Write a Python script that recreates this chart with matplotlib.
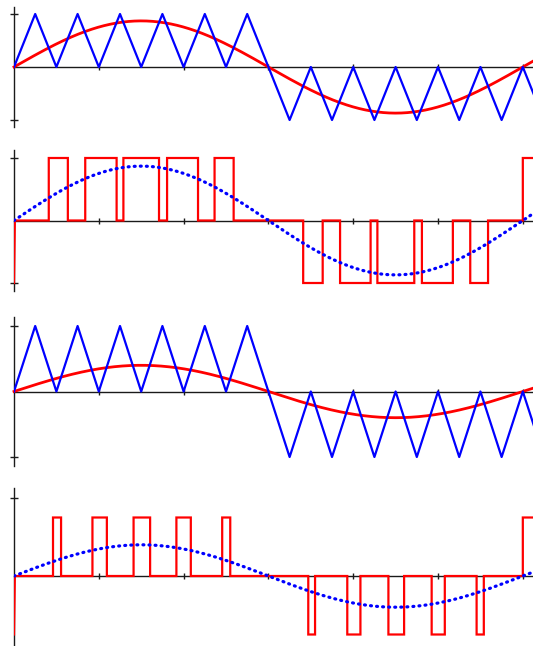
import numpy as np
import matplotlib
matplotlib.use("Agg")
import matplotlib.pyplot as plt

# time axis in carrier periods: one full sine period = 12 carrier periods
t_end = 12.24
tick_t = [2, 4, 6, 8, 10, 12]

# modulation index of each pair of panels
m_high = 0.87
m_low = 0.40

# triangle carrier vertex values, every half carrier period
carrier_vals = [0, 1, 0, 1, 0, 1, 0, 1, 0, 1, 0, 1, 0,
                -1, 0, -1, 0, -1, 0, -1, 0, -1, 0, -1, 0, -1]

# PWM pulse edges (start, stop)
pulses_high_pos = [(0.82, 1.27), (1.68, 2.42), (2.58, 3.42), (3.61, 4.34), (4.73, 5.18)]
pulses_high_neg = [(6.82, 7.28), (7.69, 8.41), (8.57, 9.44), (9.62, 10.35), (10.76, 11.18)]
pulses_low_pos = [(0.92, 1.11), (1.85, 2.19), (2.82, 3.21), (3.83, 4.17), (4.91, 5.10)]
pulses_low_neg = [(6.94, 7.10), (7.86, 8.17), (8.83, 9.20), (9.85, 10.16), (10.91, 11.08)]
level_high = 1.0
level_low = 0.75
restart_t = 12.0

# panel placement: zero line pixel, pixels per unit
panels = [(67, 53), (220.5, 62.5), (391.5, 65.5), (576, 78)]

W, H = 533, 646
RED = "#ff0000"
BLUE = "#0000ff"


def pwm_steps(pos, neg, level):
    ts = [0.0, 0.02]
    vs = [-level, 0.0]
    for a, b in pos:
        ts += [a, a, b, b]
        vs += [0, level, level, 0]
    for a, b in neg:
        ts += [a, a, b, b]
        vs += [0, -level, -level, 0]
    ts += [restart_t, restart_t, t_end + 0.1]
    vs += [0, level, level]
    return ts, vs


def make_axes(zero_px, scale):
    lo, hi = -1.13, 1.13
    top_px = zero_px - hi * scale
    bot_px = zero_px - lo * scale
    ax = fig.add_axes([14 / W, 1 - bot_px / H, (W - 14) / W, (bot_px - top_px) / H])
    ax.set_xlim(0, t_end)
    ax.set_ylim(lo, hi)
    for s in ["top", "right"]:
        ax.spines[s].set_visible(False)
    for s in ["left", "bottom"]:
        ax.spines[s].set_position("zero")
        ax.spines[s].set_color("#1a1a1a")
        ax.spines[s].set_linewidth(1.0)
        ax.spines[s].set_zorder(1)
    ax.set_xticks(tick_t)
    ax.set_yticks([-1, 1])
    ax.set_xticklabels([])
    ax.set_yticklabels([])
    ax.tick_params(axis="x", direction="inout", length=5, width=1.0, color="#1a1a1a")
    ax.tick_params(axis="y", direction="inout", length=6, width=1.0, color="#1a1a1a")
    ax.patch.set_visible(False)
    return ax


fig = plt.figure(figsize=(W / 100, H / 100), dpi=100)

tc = np.arange(len(carrier_vals)) * 0.5
ts = np.linspace(0, t_end, 600)

for i, m in enumerate([m_high, m_low]):
    # modulation panel
    ax = make_axes(*panels[2 * i])
    ax.plot(ts, m * np.sin(np.pi * ts / 6), color=RED, lw=2.0, zorder=3, clip_on=False)
    ax.plot(tc, carrier_vals, color=BLUE, lw=1.6, zorder=4, clip_on=True)

    # output panel
    ax = make_axes(*panels[2 * i + 1])
    if i == 0:
        px, py = pwm_steps(pulses_high_pos, pulses_high_neg, level_high)
    else:
        px, py = pwm_steps(pulses_low_pos, pulses_low_neg, level_low)
    ax.plot(px, py, color=RED, lw=1.6, zorder=3, solid_joinstyle="miter")
    ax.plot(ts, m * np.sin(np.pi * ts / 6), color=BLUE, lw=2.3, zorder=4,
            linestyle=(0, (0.3, 1.6)), dash_capstyle="round")

fig.savefig("out.png", dpi=100)
